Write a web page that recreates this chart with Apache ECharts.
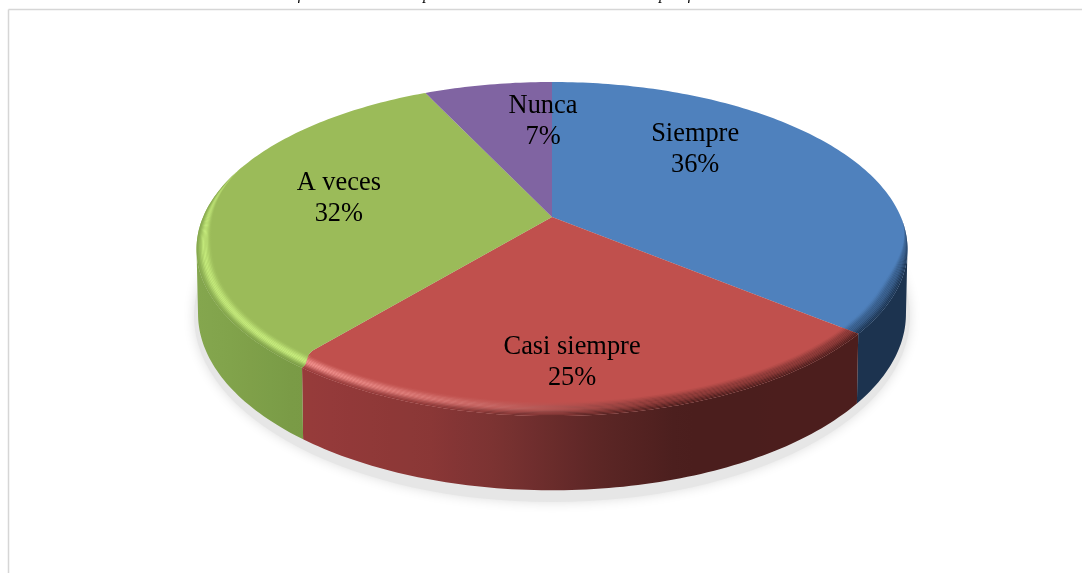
<!DOCTYPE html>
<html>
<head>
<meta charset="utf-8">
<style>html,body{margin:0;padding:0;background:#fff}#c{width:1082px;height:573px}</style>
<script src="https://cdn.jsdelivr.net/npm/echarts@6/dist/echarts.min.js"></script>
</head>
<body>
<div id="c"></div>
<script>
const categories = ['Siempre', 'Casi siempre', 'A veces', 'Nunca'];
const values = [36, 25, 32, 7];
const captionGlyphs = ['f', 'p', 'p', 'f'];

// --- layout / style ---
const topColors = ['#4f81bd', '#c0504d', '#9bbb59', '#8064a2'];
const lightColors = ['#4f81bd', '#f49490', '#c8ee7e', '#8064a2'];
const sideStops = [
  [[860, '#1c334f'], [910, '#1c334f']],
  [[296, '#983b3b'], [430, '#8a3736'], [500, '#7a3232'], [600, '#5c2625'], [680, '#4b1e1d'], [860, '#4c1e1d']],
  [[196, '#85a74e'], [300, '#799a45']],
  [[0, '#000000'], [1, '#000000']]
];
const lightStops = [
  [[0, 0], [2000, 0]],
  [[296, 1], [450, 0.6], [600, 0.12], [650, 0], [900, 0]],
  [[190, 0.9], [300, 1]],
  [[0, 0], [2000, 0]]
];
const labelAnchors = [[0.446, -0.455], [0.049, 0.772], [-0.625, -0.12], [-0.029, -0.668]];
const captionX = [300, 427, 663, 690];
const P = { cx: 552, y0: 217, A: 348.9, B: 160.9, k: 0.1916 };
const Q = { cx: 552, y0: 280, A: 347.4, B: 170, k: 0.1916 };
const SIL_A = 101, SIL_B = 259;
const RIM_PX = 15, BANDS = 12;
const RIM_FROM = 90, RIM_TO = 292;
const startBend = [0, 0, 2.2, 0];   // boundary bend at the bevel, per slice start

const total = values.reduce((a, b) => a + b, 0);
const rad = d => d * Math.PI / 180;
function proj(M, t, r) {
  const u = r * Math.sin(rad(t)), v = -r * Math.cos(rad(t));
  const d = 1 - M.k * v;
  return [M.cx + M.A * u / d, M.y0 + M.B * v / d];
}
function bounds(i) {
  let a = 0;
  for (let j = 0; j < i; j++) a += values[j];
  return [a / total * 360, (a + values[i]) / total * 360];
}
function hex(c) {
  return [parseInt(c.slice(1, 3), 16), parseInt(c.slice(3, 5), 16), parseInt(c.slice(5, 7), 16)];
}
function toHex(a) {
  return 'rgb(' + a.map(x => Math.round(x)).join(',') + ')';
}
const mix = (a, b, f) => a.map((x, i) => x + (b[i] - x) * f);
const smooth = f => { f = Math.max(0, Math.min(1, f)); return f * f * (3 - 2 * f); };
const bendAt = r => smooth((r - 0.93) / 0.07);
const startAt = (i, r) => bounds(i)[0] - startBend[i] * bendAt(r);
const endAt = (i, r) => bounds(i)[1] - startBend[(i + 1) % values.length] * bendAt(r);
function interpN(stops, x) {
  if (x <= stops[0][0]) return stops[0][1];
  for (let i = 1; i < stops.length; i++) {
    if (x <= stops[i][0]) {
      const f = (x - stops[i - 1][0]) / (stops[i][0] - stops[i - 1][0]);
      return stops[i - 1][1] + (stops[i][1] - stops[i - 1][1]) * f;
    }
  }
  return stops[stops.length - 1][1];
}
function interpC(stops, x) {
  if (x <= stops[0][0]) return hex(stops[0][1]);
  for (let i = 1; i < stops.length; i++) {
    if (x <= stops[i][0]) {
      const f = (x - stops[i - 1][0]) / (stops[i][0] - stops[i - 1][0]);
      return mix(hex(stops[i - 1][1]), hex(stops[i][1]), f);
    }
  }
  return hex(stops[stops.length - 1][1]);
}
function bandColor(i, x, f) {
  const base = hex(topColors[i]);
  const side = interpC(sideStops[i], x);
  const L = interpN(lightStops[i], x);
  const peak = mix(mix(base, side, 0.5), hex(lightColors[i]), L);
  if (f < 0.5) return mix(base, peak, smooth(f / 0.5));
  return mix(peak, side, smooth((f - 0.5) / 0.5));
}
function xGradient(fn) {
  const x1 = 190, x2 = 915, n = 36, stops = [];
  for (let s = 0; s <= n; s++) {
    const x = x1 + (x2 - x1) * s / n;
    stops.push({ offset: s / n, color: toHex(fn(x)) });
  }
  return new echarts.graphic.LinearGradient(x1, 0, x2, 0, stops, true);
}
function rimWidth(t) {
  const scale = Math.hypot(350 * Math.sin(rad(t)), 245 * Math.cos(rad(t)));
  return RIM_PX / scale * smooth((t - RIM_FROM) / 26) * smooth((RIM_TO - t) / 36);
}

function renderShadow() {
  return {
    type: 'ellipse',
    shape: { cx: 552, cy: 316, rx: 358, ry: 186 },
    style: { fill: '#e6e6e6', shadowBlur: 12, shadowColor: '#dedede' },
    silent: true
  };
}
function renderSide(params, api) {
  const i = params.dataIndex;
  const a = Math.max(startAt(i, 1), SIL_A), b = Math.min(endAt(i, 1), SIL_B);
  if (b <= a) return { type: 'group', children: [] };
  const pts = [];
  for (let t = a; t < b; t += 1) pts.push(proj(P, t, 1));
  pts.push(proj(P, b, 1));
  for (let t = b; t > a; t -= 1) pts.push(proj(Q, t, 1));
  pts.push(proj(Q, a, 1));
  return {
    type: 'polygon',
    shape: { points: pts },
    style: { fill: xGradient(x => interpC(sideStops[i], x)) },
    silent: true
  };
}
function renderTop(params, api) {
  const i = params.dataIndex;
  const children = [];
  const pts = [proj(P, 0, 0)];
  const edge = [0.9, 0.93, 0.95, 0.97, 0.985];
  edge.forEach(r => pts.push(proj(P, startAt(i, r), r)));
  const s1 = startAt(i, 1), e1 = endAt(i, 1);
  for (let t = s1; t < e1; t += 1) pts.push(proj(P, t, 1));
  pts.push(proj(P, e1, 1));
  edge.slice().reverse().forEach(r => pts.push(proj(P, endAt(i, r), r)));
  children.push({
    type: 'polygon',
    shape: { points: pts },
    style: { fill: topColors[i] },
    silent: true
  });
  for (let b = 0; b < BANDS; b++) {
    const f1 = b / BANDS, f2 = (b + 1) / BANDS, fm = (f1 + f2) / 2;
    const a0 = Math.max(s1, RIM_FROM), a1 = Math.min(e1, RIM_TO);
    if (a1 <= a0) continue;
    const ts = [];
    for (let t = a0; t < a1; t += 1) ts.push(t);
    ts.push(a1);
    const outer = t => 1 - rimWidth(t) * (1 - f2);
    const inner = t => 1 - rimWidth(t) * (1 - f1);
    const ring = [];
    const place = (t, rf) => {
      const r = rf(t);
      let tt = t;
      if (t === s1) tt = startAt(i, r);
      if (t === a1 && a1 === e1) tt = endAt(i, r);
      return proj(P, tt, r);
    };
    ts.forEach(t => ring.push(place(t, outer)));
    ts.slice().reverse().forEach(t => ring.push(place(t, inner)));
    children.push({
      type: 'polygon',
      shape: { points: ring },
      style: { fill: xGradient(x => bandColor(i, x, fm)) },
      silent: true
    });
  }
  return { type: 'group', children };
}
function renderLabel(params, api) {
  const i = params.dataIndex;
  const [u, v] = labelAnchors[i];
  const d = 1 - P.k * v;
  return {
    type: 'text',
    x: P.cx + P.A * u / d,
    y: P.y0 + P.B * v / d,
    style: {
      text: categories[i] + '\n' + Math.round(api.value(0) / total * 100) + '%',
      font: '26.4px "Liberation Serif"',
      fill: '#000',
      align: 'center',
      verticalAlign: 'middle',
      lineHeight: 31
    },
    silent: true
  };
}

const chart = echarts.init(document.getElementById('c'), null, { renderer: 'canvas' });
const seriesData = values.map((v, i) => ({ name: categories[i], value: [v] }));
chart.setOption({
  animation: false,
  backgroundColor: '#ffffff',
  graphic: [
    { type: 'line', shape: { x1: 8.5, y1: 9.5, x2: 8.5, y2: 573 }, style: { stroke: '#d6d6d6', lineWidth: 1.5 } },
    { type: 'line', shape: { x1: 8.5, y1: 9.5, x2: 1082, y2: 9.5 }, style: { stroke: '#d6d6d6', lineWidth: 1.5 } }
  ].concat(captionGlyphs.map((g, i) => ({
    type: 'text', x: captionX[i], y: -5,
    style: { text: g, font: 'italic 16px "Liberation Serif"', fill: '#000', align: 'center', verticalAlign: 'middle' }
  }))),
  series: [
    { type: 'custom', coordinateSystem: 'none', renderItem: renderShadow, data: [[1]], z: 1, clip: false },
    { type: 'custom', coordinateSystem: 'none', renderItem: renderSide, data: seriesData, z: 2, clip: false },
    { type: 'custom', coordinateSystem: 'none', renderItem: renderTop, data: seriesData, z: 3, clip: false },
    { type: 'custom', coordinateSystem: 'none', renderItem: renderLabel, data: seriesData, z: 4, clip: false }
  ]
});
</script>
</body>
</html>
